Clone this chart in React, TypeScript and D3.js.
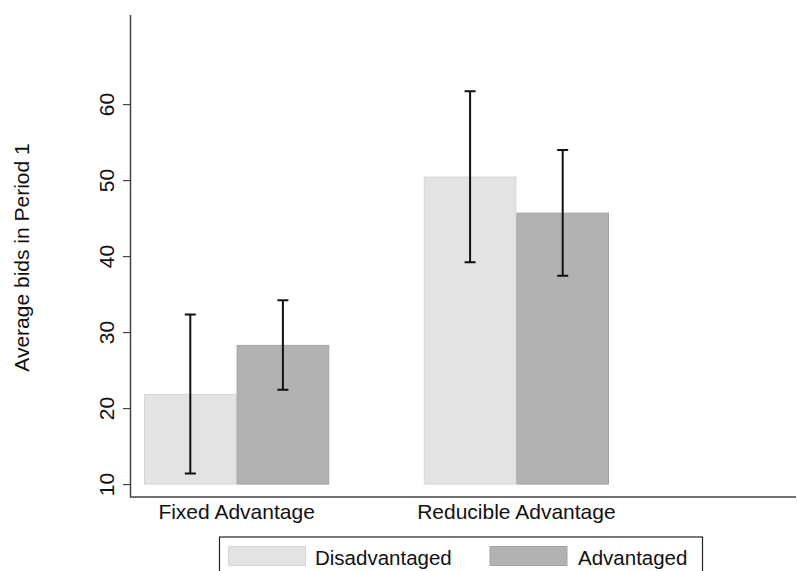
import * as d3 from "d3";
import { useEffect, useRef } from "react";

const categories = ["Fixed Advantage", "Reducible Advantage"];
const seriesNames = ["Disadvantaged", "Advantaged"];
const means = [
  [21.8, 28.25],
  [50.4, 45.65],
];
const lowerCI = [
  [11.4, 22.4],
  [39.2, 37.4],
];
const upperCI = [
  [32.3, 34.2],
  [61.7, 53.95],
];
const yTicks = [10, 20, 30, 40, 50, 60];

export default function App() {
  const svgRef = useRef(null);
  const svgWidth = 797;
  const svgHeight = 571;

  const fills = ["#e3e3e3", "#b2b2b2"];
  const strokes = ["#d6d6d6", "#a3a3a3"];
  const font = "'Liberation Sans', Arial, Helvetica, sans-serif";

  useEffect(() => {
    const svg = d3.select(svgRef.current);
    svg.selectAll("*").remove();

    const yScale = d3.scaleLinear([8.3, 71.8], [497, 14.4]);
    const xScale = d3.scaleBand(categories, [144, 609]).paddingInner(0.338).paddingOuter(0);
    const xSub = d3.scaleBand(d3.range(seriesNames.length), [0, xScale.bandwidth()]);

    // bars
    categories.forEach((cat, ci) => {
      const g = svg.append("g").attr("transform", `translate(${xScale(cat)},0)`);
      seriesNames.forEach((_, si) => {
        const x0 = xSub(si);
        g.append("rect")
          .attr("x", x0 + 0.5)
          .attr("y", yScale(means[ci][si]))
          .attr("width", xSub.bandwidth() - 1)
          .attr("height", yScale(10) - yScale(means[ci][si]))
          .attr("fill", fills[si])
          .attr("stroke", strokes[si])
          .attr("stroke-width", 1);
      });
      seriesNames.forEach((_, si) => {
        const cx = xSub(si) + xSub.bandwidth() / 2;
        const top = yScale(upperCI[ci][si]);
        const bot = yScale(lowerCI[ci][si]);
        g.append("path")
          .attr("fill", "none")
          .attr("stroke", "#111")
          .attr("stroke-width", 2)
          .attr("d", `M ${cx} ${top} L ${cx} ${bot} M ${cx - 5.5} ${top} L ${cx + 5.5} ${top} M ${cx - 5.5} ${bot} L ${cx + 5.5} ${bot}`);
      });
    });

    // y axis
    const yAxis = svg.append("g")
      .attr("transform", "translate(130,0)")
      .call(d3.axisLeft(yScale).tickValues(yTicks).tickSize(7).tickSizeOuter(0));
    yAxis.select(".domain").attr("stroke", "#444").attr("stroke-width", 1.5);
    yAxis.selectAll(".tick line").attr("stroke", "#444").attr("stroke-width", 1.2);
    yAxis.selectAll(".tick text")
      .attr("x", null)
      .attr("dy", null)
      .attr("transform", "translate(-16.5,0) rotate(-90)")
      .attr("text-anchor", "middle")
      .attr("fill", "#111")
      .style("font-family", font)
      .style("font-size", "21px");

    // x axis line
    svg.append("line")
      .attr("x1", 130).attr("x2", 796)
      .attr("y1", 497).attr("y2", 497)
      .attr("stroke", "#444").attr("stroke-width", 1.5);

    // category labels
    categories.forEach((cat) => {
      svg.append("text")
        .attr("x", xScale(cat) + xScale.bandwidth() / 2)
        .attr("y", 518.5)
        .attr("text-anchor", "middle")
        .attr("fill", "#111")
        .style("font-family", font)
        .style("font-size", "21px")
        .text(cat);
    });

    // y title
    svg.append("text")
      .attr("transform", "translate(28.5,257.5) rotate(-90)")
      .attr("text-anchor", "middle")
      .attr("fill", "#111")
      .style("font-family", font)
      .style("font-size", "21px")
      .text("Average bids in Period 1");

    // legend
    svg.append("rect")
      .attr("x", 219.5).attr("y", 537)
      .attr("width", 483).attr("height", 50)
      .attr("fill", "white").attr("stroke", "#222").attr("stroke-width", 1.2);
    const swatchX = [228.5, 490];
    const labelX = [315, 578];
    seriesNames.forEach((name, si) => {
      svg.append("rect")
        .attr("x", swatchX[si]).attr("y", 546.5)
        .attr("width", 77).attr("height", 19)
        .attr("fill", fills[si]).attr("stroke", strokes[si]);
      svg.append("text")
        .attr("x", labelX[si]).attr("y", 565)
        .attr("fill", "#111")
        .style("font-family", font)
        .style("font-size", "20.5px")
        .text(name);
    });
  }, []);

  return (
    <svg
      ref={svgRef}
      width={svgWidth}
      height={svgHeight}
      style={{ position: "absolute", left: 0, top: 0, background: "white" }}
      xmlns="http://www.w3.org/2000/svg"
    />
  );
}
